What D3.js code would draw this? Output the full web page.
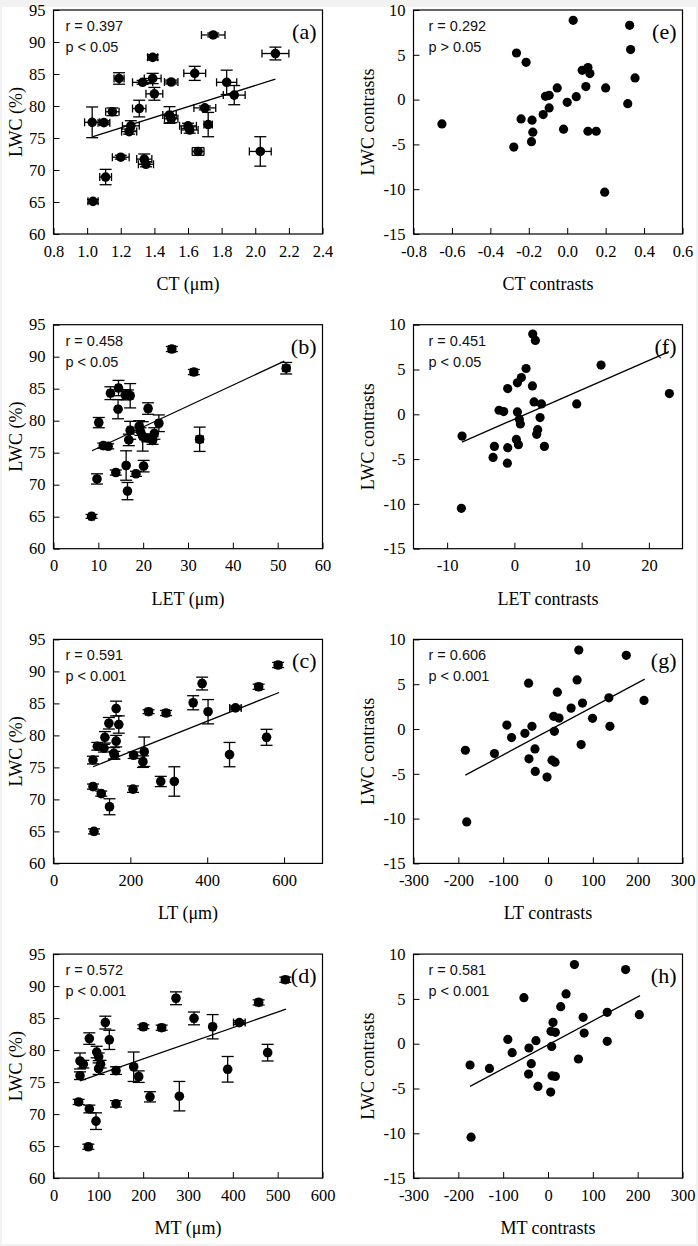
<!DOCTYPE html>
<html>
<head>
<meta charset="utf-8">
<script src="https://cdn.jsdelivr.net/npm/d3@7"></script>
<style>
body { margin: 0; background: #fff; }
.tk text { font-family: "Liberation Serif", "Times New Roman", serif; font-size: 16.5px; fill: #000; }
.tk line { stroke: #000; stroke-width: 1; }
.ttl { font-family: "Liberation Serif", "Times New Roman", serif; font-size: 18px; fill: #000; }
.lab { font-family: "Liberation Serif", "Times New Roman", serif; font-size: 22px; fill: #000; }
.stat { font-family: "Liberation Sans", Arial, sans-serif; font-size: 14.5px; fill: #111; }
</style>
</head>
<body>
<div id="chart"></div>
<script>
// raw values: [x, LWC, xErr, LWC err]
var ctData = [
  [1.75, 91.1, 0.07, 0.3], [2.12, 88.2, 0.08, 1.0], [1.39, 87.6, 0.03, 0.4], [1.19, 84.3, 0.03, 0.9],
  [1.64, 85.1, 0.065, 1.1], [1.39, 84.3, 0.05, 0.8], [1.33, 83.7, 0.06, 0.3], [1.50, 83.75, 0.04, 0.3],
  [1.40, 81.9, 0.05, 1.0], [1.83, 83.7, 0.06, 1.9], [1.875, 81.7, 0.065, 1.5], [1.15, 79.1, 0.04, 0.6],
  [1.31, 79.6, 0.04, 1.3], [1.49, 78.6, 0.04, 1.3], [1.50, 78.0, 0.04, 0.6], [1.70, 79.7, 0.065, 0.3],
  [1.03, 77.45, 0.045, 2.4], [1.10, 77.4, 0.035, 0.3], [1.26, 76.9, 0.05, 0.8], [1.25, 76.0, 0.045, 0.4],
  [1.60, 76.9, 0.05, 0.4], [1.61, 76.25, 0.05, 0.5], [1.72, 77.1, 0.025, 1.9], [2.03, 72.9, 0.065, 2.3],
  [1.66, 72.9, 0.035, 0.6], [1.20, 72.0, 0.05, 0.3], [1.34, 71.7, 0.045, 0.8], [1.35, 70.9, 0.045, 0.4],
  [1.11, 68.9, 0.035, 1.2], [1.035, 65.1, 0.03, 0.3]
];
var letData = [
  [26.4, 91.2, 0.7, 0.4], [31.3, 87.6, 0.7, 0.4], [51.9, 88.2, 0.8, 0.9], [12.7, 84.3, 0.6, 1.0],
  [14.5, 85.1, 0.6, 1.2], [16.0, 84.05, 0.6, 0.8], [17.1, 83.9, 0.6, 1.9], [16.6, 84.2, 0.5, 0.6],
  [14.4, 81.8, 0.5, 1.5], [21.1, 81.9, 0.6, 0.9], [10.1, 79.7, 0.6, 0.8], [23.5, 79.6, 0.6, 1.3],
  [19.1, 79.1, 0.6, 0.9], [17.1, 78.5, 0.6, 1.4], [19.9, 77.55, 0.6, 2.3], [22.5, 78.0, 0.5, 0.9],
  [22.1, 76.9, 0.5, 0.6], [16.8, 77.0, 0.5, 0.9], [11.1, 76.1, 0.5, 0.4], [12.2, 76.0, 0.5, 0.4],
  [32.6, 77.1, 0.8, 1.9], [16.2, 73.0, 0.5, 2.3], [20.1, 72.9, 0.5, 0.9], [13.9, 71.9, 0.5, 0.4],
  [18.4, 71.7, 0.5, 0.4], [9.7, 70.9, 0.5, 0.8], [16.5, 69.0, 0.5, 1.35], [8.5, 65.05, 0.6, 0.3],
  [20.9, 77.3, 0.5, 0.6], [19.4, 78.3, 0.5, 0.6]
];
var ltData = [
  [584.5, 91.0, 8, 0.4], [533.8, 87.6, 8, 0.4], [386.7, 88.1, 6, 1.0], [363.4, 85.1, 6, 1.1],
  [473.5, 84.3, 15, 0.3], [402.2, 83.7, 6, 1.9], [247.3, 83.7, 8, 0.3], [292.9, 83.5, 8, 0.4],
  [163, 84.2, 5, 1.15], [144.1, 81.9, 5, 0.9], [169.9, 81.7, 5, 1.35], [133.8, 79.7, 5, 0.9],
  [554.4, 79.7, 6, 1.25], [163, 79.1, 5, 0.9], [114, 78.3, 5, 0.6], [131.2, 78.0, 5, 0.6],
  [157, 77.2, 5, 0.9], [158.7, 76.9, 5, 0.6], [102.8, 76.15, 5, 0.6], [208.6, 76.9, 6, 0.5],
  [236.1, 77.45, 5, 2.3], [232.7, 75.9, 5, 0.9], [458.1, 77.0, 5, 1.9], [279.1, 72.8, 6, 0.8],
  [314.4, 72.8, 5, 2.3], [206.9, 71.6, 6, 0.5], [102.8, 72.0, 6, 0.4], [124.3, 70.9, 5, 0.4],
  [145.8, 68.85, 5, 1.25], [105.4, 65.0, 6, 0.4]
];
var mtData = [
  [517.1, 91.0, 7, 0.4], [457.6, 87.45, 7, 0.4], [273.2, 88.1, 5, 1.0], [313.4, 84.95, 5, 1.0],
  [414.5, 84.3, 13, 0.3], [355, 83.65, 5, 1.9], [200.4, 83.65, 7, 0.3], [241.3, 83.5, 7, 0.4],
  [115.6, 84.3, 4, 1.0], [79.9, 81.8, 4, 0.9], [124.5, 81.6, 4, 1.5], [96.3, 79.7, 4, 0.9],
  [100.7, 78.95, 4, 0.6], [59.1, 78.3, 4, 1.25], [66.5, 77.8, 4, 0.6], [100.7, 77.1, 4, 0.9],
  [139.4, 76.8, 5, 0.6], [178.8, 77.4, 4, 2.3], [190, 75.85, 6, 0.9], [59.1, 76.0, 4, 0.6],
  [477.7, 79.6, 5, 1.3], [388.5, 77.0, 5, 2.0], [215.2, 72.7, 5, 0.8], [280.7, 72.8, 4, 2.3],
  [139.4, 71.6, 5, 0.5], [56.1, 71.9, 5, 0.4], [79.9, 70.8, 4, 0.6], [94.8, 68.9, 4, 1.3],
  [77.7, 64.9, 5, 0.4], [105, 77.8, 4, 0.6]
];

// contrasts [x, y]
var ctContr = [
  [-0.652, -2.71], [-0.264, 5.2], [-0.214, 4.16], [-0.278, -5.3], [-0.24, -2.16], [-0.183, -2.3],
  [-0.179, -3.64], [-0.186, -4.7], [-0.125, -1.67], [-0.113, 0.37], [-0.094, 0.48], [-0.094, -0.93],
  [-0.052, 1.3], [-0.019, -3.3], [0.0, -0.3], [0.031, 8.85], [0.047, 0.33], [0.078, 3.27],
  [0.108, 3.57], [0.118, 2.9], [0.097, 1.45], [0.108, -3.53], [0.151, -3.53], [0.2, 1.3],
  [0.195, -10.33], [0.325, 8.29], [0.33, 5.58], [0.353, 2.42], [0.315, -0.45]
];
var letContr = [
  [-7.78, -2.43], [-7.88, -10.49], [-2.97, -3.58], [-3.17, -4.81], [-0.99, -3.73], [-1.04, -5.45],
  [-2.28, 0.45], [-1.59, 0.3], [-0.99, 2.87], [0.45, 3.51], [1.04, 4.1], [1.74, 5.11],
  [0.45, 0.26], [0.74, -0.56], [0.89, -1.08], [0.3, -2.8], [0.6, -3.4], [2.73, 8.96],
  [3.12, 8.25], [2.68, 3.17], [2.93, 1.38], [4.02, 1.16], [3.82, -0.37], [3.47, -1.72],
  [3.32, -2.24], [4.46, -3.58], [9.27, 1.16], [12.89, 5.49], [23.05, 2.31]
];
var ltContr = [
  [-184.3, -2.37], [-181.3, -10.37], [-119.4, -2.74], [-91.8, 0.44], [-81.3, -0.96], [-51.5, -0.48],
  [-43.3, 5.11], [-35.8, 0.3], [-42.5, -3.33], [-29.1, -2.22], [-28.4, -4.74], [-2.2, -5.37],
  [9, -3.48], [15.7, -3.7], [14.2, -0.26], [12.7, 1.41], [24.6, 1.22], [20.9, 4.11],
  [51.5, 2.33], [64.9, 5.48], [68.7, 8.81], [76.9, 2.89], [73.9, -1.74], [99.3, 1.19],
  [135.8, 3.48], [138.1, 0.3], [174.6, 8.22], [214.2, 3.19]
];
var mtContr = [
  [-173.9, -2.38], [-171.6, -10.43], [-130.6, -2.76], [-89.6, 0.48], [-79.9, -1.0], [-53.7, 5.14],
  [-42.5, -0.48], [-26.9, 0.34], [-43.3, -3.39], [-37.3, -2.23], [-22.4, -4.77], [6, -5.4],
  [8.2, -0.3], [11.2, 2.38], [6.7, 1.38], [16.4, 1.27], [9, -3.58], [16.4, -3.65],
  [28.4, 4.13], [40.3, 5.55], [59, 8.83], [67.9, -1.71], [78.4, 2.94], [80.6, 1.19],
  [132.1, 3.5], [132.1, 0.26], [173.1, 8.27], [203.7, 3.24]
];

// regression lines, read as end points [[x0, y0], [x1, y1]]
var fitCT = [[1.035, 75.2], [2.12, 84.2]];
var fitLET = [[8.6, 75.3], [51.5, 89.3]];
var fitLT = [[102.8, 75.1], [587, 86.7]];
var fitMT = [[59.1, 75.2], [518.6, 86.4]];
var fitLETc = [[-7.8, -3.1], [23, 7.0]];
var fitLTc = [[-184.3, -5.15], [215.7, 5.56]];
var fitMTc = [[-173.9, -4.77], [205.2, 5.36]];

var lwcTicks = [60, 65, 70, 75, 80, 85, 90, 95];
var contrTicks = [-15, -10, -5, 0, 5, 10];
var ctTicks = [0.8, 1.0, 1.2, 1.4, 1.6, 1.8, 2.0, 2.2, 2.4];
var letTicks = [0, 10, 20, 30, 40, 50, 60];
var ltTicks = [0, 200, 400, 600];
var mtTicks = [0, 100, 200, 300, 400, 500, 600];
var ctcTicks = [-0.8, -0.6, -0.4, -0.2, 0.0, 0.2, 0.4, 0.6];
var letcTicks = [-10, 0, 10, 20];
var ptcTicks = [-300, -200, -100, 0, 100, 200, 300];

var loc = d3.formatLocale({decimal: ".", thousands: ",", grouping: [3], currency: ["", ""], minus: "-"});
var f1 = loc.format(".1f"), f0 = loc.format("d");

var panels = [
  {col: 0, row: 0, data: ctData, err: true, xd: [0.8, 2.4], xt: ctTicks, fmt: f1, xTitle: "CT (\u03bcm)", r: "r = 0.397", p: "p < 0.05", lab: "(a)", fit: fitCT},
  {col: 0, row: 1, data: letData, err: true, xd: [0, 60], xt: letTicks, fmt: f0, xTitle: "LET (\u03bcm)", r: "r = 0.458", p: "p < 0.05", lab: "(b)", fit: fitLET},
  {col: 0, row: 2, data: ltData, err: true, xd: [0, 700], xt: ltTicks, fmt: f0, xTitle: "LT (\u03bcm)", r: "r = 0.591", p: "p < 0.001", lab: "(c)", fit: fitLT},
  {col: 0, row: 3, data: mtData, err: true, xd: [0, 600], xt: mtTicks, fmt: f0, xTitle: "MT (\u03bcm)", r: "r = 0.572", p: "p < 0.001", lab: "(d)", fit: fitMT},
  {col: 1, row: 0, data: ctContr, err: false, xd: [-0.8, 0.6], xt: ctcTicks, fmt: f1, xTitle: "CT contrasts", r: "r = 0.292", p: "p > 0.05", lab: "(e)", fit: null},
  {col: 1, row: 1, data: letContr, err: false, xd: [-15, 25], xt: letcTicks, fmt: f0, xTitle: "LET contrasts", r: "r = 0.451", p: "p < 0.05", lab: "(f)", fit: fitLETc},
  {col: 1, row: 2, data: ltContr, err: false, xd: [-300, 300], xt: ptcTicks, fmt: f0, xTitle: "LT contrasts", r: "r = 0.606", p: "p < 0.001", lab: "(g)", fit: fitLTc},
  {col: 1, row: 3, data: mtContr, err: false, xd: [-300, 300], xt: ptcTicks, fmt: f0, xTitle: "MT contrasts", r: "r = 0.581", p: "p < 0.001", lab: "(h)", fit: fitMTc}
];

var W = 698, H = 1246;
var svg = d3.select("#chart").append("svg").attr("width", W).attr("height", H);
svg.append("rect").attr("width", W).attr("height", H).attr("fill", "#f2f2f2");
svg.append("rect").attr("x", 2).attr("y", 7).attr("width", W - 4).attr("height", H - 9).attr("fill", "#fff");

var colX = [53.5, 413.5], plotW = 269, plotH = 224;
function rowTop(i) { return 10 + i * 314.7; }

function drawPanel(p) {
  var left = p.col === 0;
  var g = svg.append("g").attr("transform", "translate(" + colX[p.col] + "," + rowTop(p.row) + ")");
  var x = d3.scaleLinear().domain(p.xd).range([0, plotW]);
  var y = d3.scaleLinear().domain(left ? [60, 95] : [-15, 10]).range([plotH, 0]);

  var xa = d3.axisBottom(x).tickValues(p.xt).tickFormat(p.fmt).tickSizeInner(-6).tickSizeOuter(0).tickPadding(11);
  g.append("g").attr("class", "tk").attr("transform", "translate(0," + plotH + ")").call(xa)
    .call(function (s) { s.select(".domain").remove(); });
  var ya = d3.axisLeft(y).tickValues(left ? lwcTicks : contrTicks).tickFormat(f0).tickSizeInner(-6).tickSizeOuter(0).tickPadding(8);
  g.append("g").attr("class", "tk").call(ya)
    .call(function (s) { s.select(".domain").remove(); });

  g.append("rect").attr("width", plotW).attr("height", plotH)
    .attr("fill", "none").attr("stroke", "#000").attr("stroke-width", 1.2);

  if (p.err) {
    var eb = g.append("g").attr("stroke", "#000").attr("stroke-width", 1.3);
    p.data.forEach(function (d) {
      var cx = x(d[0]), cy = y(d[1]);
      var xl = x(d[0] - d[2]), xr = x(d[0] + d[2]);
      var yt = y(d[1] + d[3]), yb = y(d[1] - d[3]);
      eb.append("line").attr("x1", xl).attr("x2", xr).attr("y1", cy).attr("y2", cy);
      eb.append("line").attr("x1", xl).attr("x2", xl).attr("y1", cy - 4).attr("y2", cy + 4);
      eb.append("line").attr("x1", xr).attr("x2", xr).attr("y1", cy - 4).attr("y2", cy + 4);
      eb.append("line").attr("x1", cx).attr("x2", cx).attr("y1", yt).attr("y2", yb);
      eb.append("line").attr("x1", cx - 6).attr("x2", cx + 6).attr("y1", yt).attr("y2", yt);
      eb.append("line").attr("x1", cx - 6).attr("x2", cx + 6).attr("y1", yb).attr("y2", yb);
    });
  }

  if (p.fit) {
    g.append("line")
      .attr("x1", x(p.fit[0][0])).attr("y1", y(p.fit[0][1]))
      .attr("x2", x(p.fit[1][0])).attr("y2", y(p.fit[1][1]))
      .attr("stroke", "#000").attr("stroke-width", 1.3);
  }

  g.selectAll("circle.pt").data(p.data).enter().append("circle")
    .attr("class", "pt")
    .attr("cx", function (d) { return x(d[0]); })
    .attr("cy", function (d) { return y(d[1]); })
    .attr("r", left ? 4.8 : 4.6)
    .attr("fill", "#000");

  var sx = left ? 12 : 15;
  g.append("text").attr("class", "stat").attr("x", sx).attr("y", 21).text(p.r);
  g.append("text").attr("class", "stat").attr("x", sx).attr("y", 42).text(p.p);
  g.append("text").attr("class", "lab").attr("x", plotW - 6).attr("y", 29).attr("text-anchor", "end").text(p.lab);

  g.append("text").attr("class", "ttl").attr("x", plotW / 2).attr("y", plotH + 56)
    .attr("text-anchor", "middle").text(p.xTitle);
  g.append("text").attr("class", "ttl")
    .attr("transform", "translate(" + (left ? -38 : -46) + "," + (plotH / 2) + ") rotate(-90)")
    .attr("text-anchor", "middle").attr("dy", "0.35em")
    .text(left ? "LWC (%)" : "LWC contrasts");
}

panels.forEach(drawPanel);
</script>
</body>
</html>
